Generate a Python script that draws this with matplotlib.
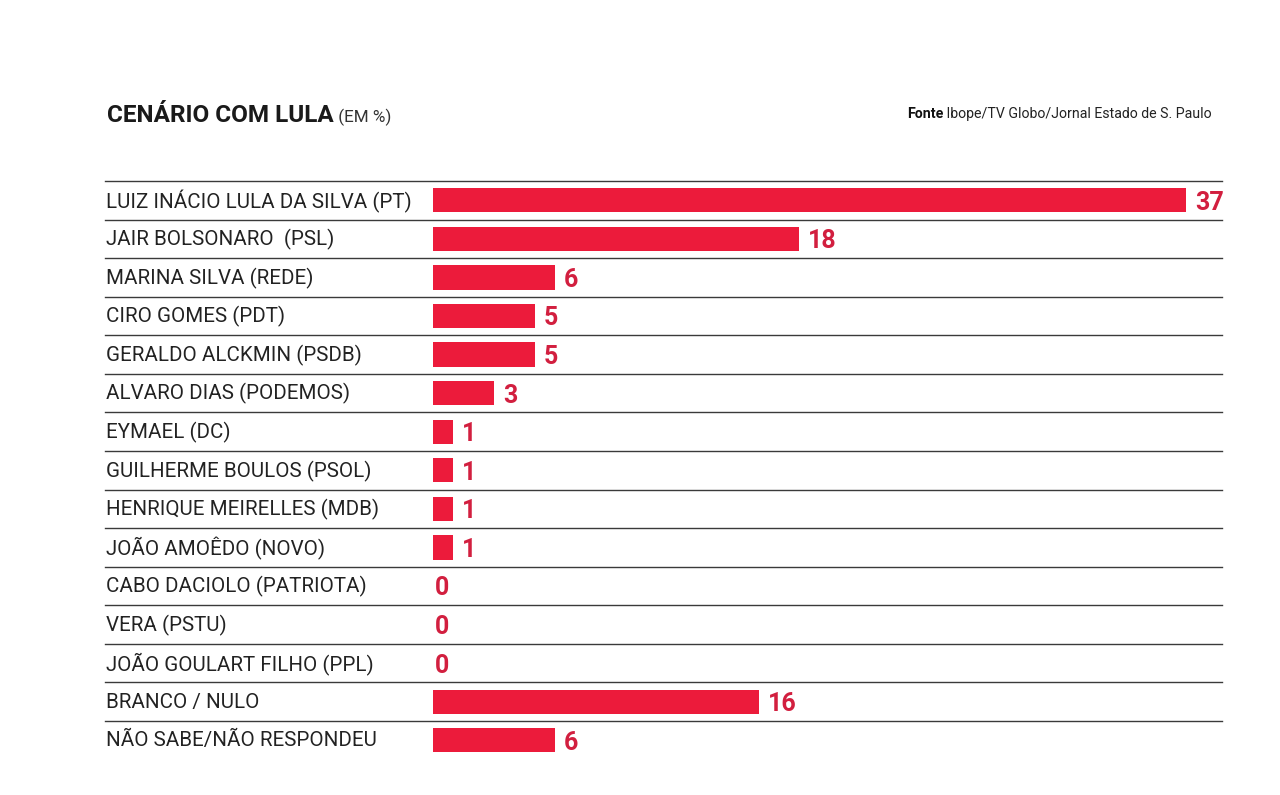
import matplotlib
matplotlib.use("Agg")
from matplotlib import pyplot as plt
from matplotlib.transforms import blended_transform_factory

# chart data (percent)
candidates = ["LUIZ INÁCIO LULA DA SILVA (PT)", "JAIR BOLSONARO  (PSL)", "MARINA SILVA (REDE)",
              "CIRO GOMES (PDT)", "GERALDO ALCKMIN (PSDB)", "ALVARO DIAS (PODEMOS)",
              "EYMAEL (DC)", "GUILHERME BOULOS (PSOL)", "HENRIQUE MEIRELLES (MDB)",
              "JOÃO AMOÊDO (NOVO)", "CABO DACIOLO (PATRIOTA)", "VERA (PSTU)",
              "JOÃO GOULART FILHO (PPL)", "BRANCO / NULO", "NÃO SABE/NÃO RESPONDEU"]
values = [37, 18, 6, 5, 5, 3, 1, 1, 1, 1, 0, 0, 0, 16, 6]

title = "CENÁRIO COM LULA"
subtitle = " (EM %)"
source_bold = "Fonte"
source = " Ibope/TV Globo/Jornal Estado de S. Paulo"

RED = "#ec1b3b"
RED_TXT = "#d21f3f"
LINE = "#3a3a3a"
W, H = 1280, 795

plt.rcParams['font.family'] = ['Roboto', 'DejaVu Sans']

fig = plt.figure(figsize=(W / 100, H / 100), dpi=100)
fig.patch.set_facecolor("white")

# bar area in pixel terms
x0, x1 = 433, 1186          # 0 -> 37
top, row_h = 181, 38.57
n = len(values)
ax = fig.add_axes([x0 / W, 1 - (top + n * row_h) / H, (x1 - x0) / W, n * row_h / H])
ax.set_xlim(0, max(values))
ax.set_ylim(n, 0)
ax.axis("off")

ys = [i + 0.5 for i in range(n)]
ax.barh(ys, values, height=0.63, color=RED, left=0)

tr = blended_transform_factory(fig.transFigure, ax.transData)
# separator lines
for i in range(n):
    ax.plot([105 / W, 1222 / W], [i, i], color=LINE, lw=1.0, transform=tr, clip_on=False)

for y, name, v in zip(ys, candidates, values):
    ax.text(106 / W, y - 0.04, name, transform=tr, fontsize=14.8, color="#222222",
            ha="left", va="center_baseline")
    ax.annotate(str(v), (v, y), xytext=(6.5 if v > 0 else 1.5, 0), textcoords="offset points",
                fontsize=18, fontweight="bold", color=RED_TXT, ha="left", va="center_baseline")

# title
t = fig.text(107 / W, 1 - 122 / H, title, fontsize=17.5, fontweight="bold", color="#1a1a1a",
             ha="left", va="baseline")
fig.canvas.draw()
bb = t.get_window_extent()
fig.text(bb.x1 / W, 1 - 122 / H, subtitle, fontsize=12.3, color="#333333",
         ha="left", va="baseline")

# source
s = fig.text(1212 / W, 1 - 118 / H, source, fontsize=10.2, color="#222222",
             ha="right", va="baseline")
fig.canvas.draw()
sb = s.get_window_extent()
fig.text(sb.x0 / W, 1 - 118 / H, source_bold, fontsize=10.2, fontweight="bold",
         color="#111111", ha="right", va="baseline")

fig.savefig("out.png", dpi=100, facecolor="white")
